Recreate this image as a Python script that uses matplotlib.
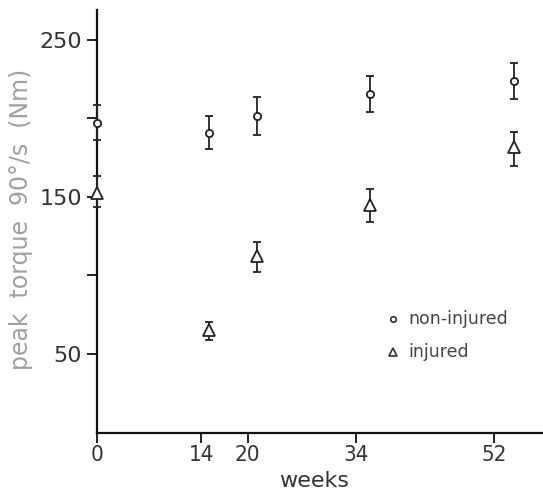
import matplotlib
matplotlib.use('Agg')
import matplotlib.pyplot as plt

# weeks after injury
weeks = [0, 14, 20, 34, 52]

# peak torque at 90°/s (Nm)
non_injured = [197, 191, 201.5, 215.5, 224]
non_injured_lo = [11, 10.5, 12, 11.5, 11.5]
non_injured_hi = [11.5, 10.5, 12, 11.5, 11.5]
injured = [152.5, 65, 112.5, 145, 181.5]
injured_lo = [9, 6, 10, 11, 12]
injured_hi = [10.5, 5.5, 9, 10, 10]

# x ticks in the scan sit a little left of the plotted weeks
tick_pos = [0, 13.0, 18.8, 32.3, 49.5]
tick_labels = ['0', '14', '20', '34', '52']

fig = plt.figure(figsize=(5.43, 4.94), dpi=100)
ax = fig.add_axes([97 / 543, 61.5 / 494, 1 - 97 / 543, (432.5 - 10) / 494])

ax.errorbar(weeks, non_injured, yerr=[non_injured_lo, non_injured_hi], fmt='o',
            ms=5.2, mfc='white', mec='#222222', mew=1.3, ecolor='#222222',
            elinewidth=1.3, capsize=3, capthick=1.3, clip_on=False, zorder=3)
ax.errorbar(weeks, injured, yerr=[injured_lo, injured_hi], fmt='^',
            ms=8, mfc='white', mec='#222222', mew=1.3, ecolor='#222222',
            elinewidth=1.3, capsize=3, capthick=1.3, clip_on=False, zorder=3)

ax.set_xlim(0, 55.6)
ax.set_ylim(0, 269)
ax.spines['top'].set_visible(False)
ax.spines['right'].set_visible(False)
ax.spines['left'].set_linewidth(1.6)
ax.spines['bottom'].set_linewidth(1.6)
ax.spines['left'].set_color('#111111')
ax.spines['bottom'].set_color('#111111')

ax.set_xticks(tick_pos)
ax.set_xticklabels(tick_labels, fontstretch='condensed')
ax.set_yticks([50, 150, 250])
ax.set_yticks([100, 200], minor=True)
ax.tick_params(axis='both', direction='out', length=7, width=1.3, color='#111111')
ax.tick_params(axis='y', which='minor', direction='out', length=7, width=1.3, color='#111111')
ax.tick_params(axis='y', labelsize=16, labelcolor='#333333', pad=4)
ax.tick_params(axis='x', labelsize=16, labelcolor='#333333', pad=2)

ax.set_xlabel('weeks', fontsize=16, color='#333333')
ax.xaxis.set_label_coords((314 - 97) / 446, -0.092)
ax.set_ylabel('peak  torque  90°/s  (Nm)', fontsize=17, color='#a0a0a0')
ax.yaxis.set_label_coords(-0.143, (432.5 - 219) / 422.5)

# legend drawn as markers + text
ax.plot([36.9], [72.3], 'o', ms=4, mfc='white', mec='#333333', mew=1.2, clip_on=False)
ax.text(38.8, 72.3, 'non-injured', fontsize=12.5, color='#444444', va='center')
ax.plot([36.9], [51.3], '^', ms=6, mfc='white', mec='#333333', mew=1.2, clip_on=False)
ax.text(38.8, 51.3, 'injured', fontsize=12.5, color='#444444', va='center')

plt.savefig('out.png', dpi=100)
